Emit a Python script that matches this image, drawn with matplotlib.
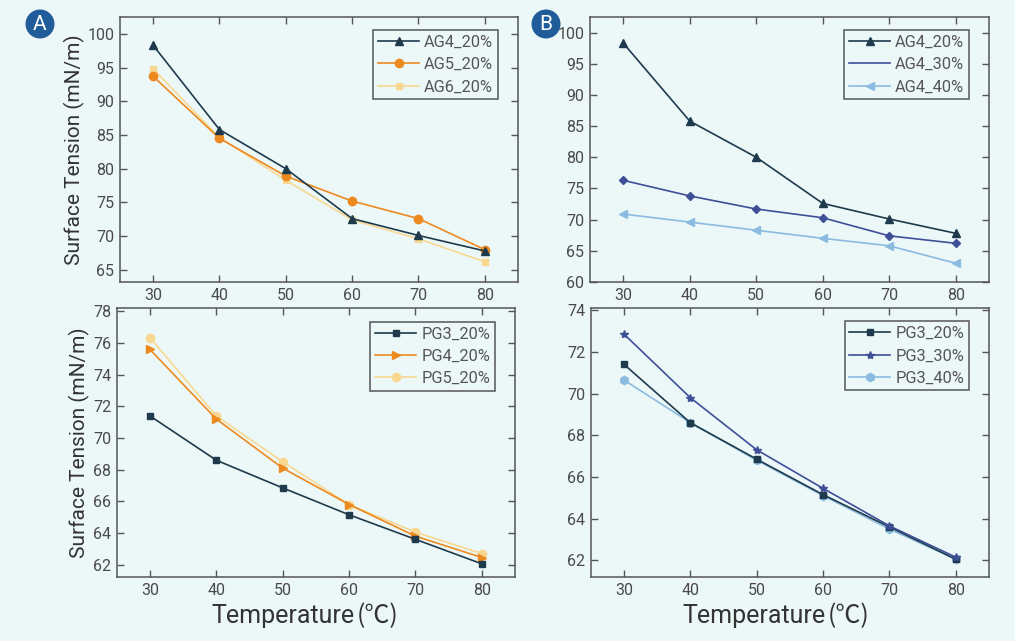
import matplotlib
matplotlib.use("Agg")
import matplotlib.pyplot as plt
from matplotlib.lines import Line2D
from matplotlib.patches import Circle

plt.rcParams['font.family'] = ['Roboto', 'DejaVu Sans']

temps = [30, 40, 50, 60, 70, 80]

ag4_20 = [98.3, 85.8, 80.0, 72.6, 70.1, 67.8]
ag5_20 = [93.7, 84.5, 78.9, 75.2, 72.6, 68.0]
ag6_20 = [94.8, 84.6, 78.3, 72.4, 69.6, 66.2]
ag4_30 = [76.3, 73.8, 71.7, 70.3, 67.4, 66.2]
ag4_40 = [70.9, 69.6, 68.3, 67.0, 65.8, 63.0]

pg3_20 = [71.4, 68.6, 66.85, 65.15, 63.6, 62.05]
pg4_20 = [75.6, 71.2, 68.1, 65.8, 63.8, 62.45]
pg5_20 = [76.35, 71.4, 68.5, 65.8, 64.05, 62.7]
pg3_30 = [72.85, 69.8, 67.3, 65.45, 63.65, 62.15]
pg3_40 = [70.65, 68.6, 66.8, 65.1, 63.5, 62.05]

BG = '#ECF8F8'
DARK = '#1E3A4C'
ORANGE = '#EC8A20'
YELLOW = '#F8D891'
BLUE = '#3E4F98'
LBLUE = '#8BBBE0'
TXT = '#4A4A4A'
SPINE = '#555555'

fig = plt.figure(figsize=(10.15, 6.41), dpi=100, facecolor=BG)

def make_ax(rect, ylim, yticks):
    ax = fig.add_axes(rect, facecolor=BG)
    ax.set_xlim(25, 85)
    ax.set_ylim(*ylim)
    ax.set_xticks(temps)
    ax.set_yticks(yticks)
    ax.tick_params(direction='in', top=True, right=True, length=5, width=1,
                   colors=SPINE, labelcolor=TXT, labelsize=11.5, pad=4)
    for s in ax.spines.values():
        s.set_color(SPINE)
        s.set_linewidth(1.1)
    return ax

def add_legend(ax, handles, labels):
    leg = ax.legend(handles, labels, loc='upper right',
                    bbox_to_anchor=(0.95, 0.951), borderaxespad=0.0,
                    fontsize=11.8, handlelength=2.5, handletextpad=0.3,
                    borderpad=0.3, labelspacing=0.44, fancybox=False,
                    framealpha=1, facecolor=BG, edgecolor=SPINE)
    leg.get_frame().set_linewidth(1.1)
    for t in leg.get_texts():
        t.set_color('#555555')
    return leg

ax1 = make_ax([0.1182, 0.5601, 0.3921, 0.4134], (63.2, 102.5), [65, 70, 75, 80, 85, 90, 95, 100])
ax2 = make_ax([0.5813, 0.5601, 0.3931, 0.4134], (60, 102.5), [60, 65, 70, 75, 80, 85, 90, 95, 100])
ax3 = make_ax([0.1150, 0.0994, 0.3924, 0.4196], (61.2, 78.2), [62, 64, 66, 68, 70, 72, 74, 76, 78])
ax4 = make_ax([0.5820, 0.0998, 0.3924, 0.4197], (61.2, 74.1), [62, 64, 66, 68, 70, 72, 74])

lw = 1.2
ax1.plot(temps, ag6_20, color=YELLOW, marker='s', ms=5, lw=lw, zorder=2)
ax1.plot(temps, ag5_20, color=ORANGE, marker='o', ms=6, lw=lw, zorder=3)
ax1.plot(temps, ag4_20, color=DARK, marker='^', ms=6, lw=lw, zorder=4)
h1 = [Line2D([], [], color=DARK, marker='^', ms=6, lw=lw),
      Line2D([], [], color=ORANGE, marker='o', ms=6, lw=lw),
      Line2D([], [], color=YELLOW, marker='s', ms=5, lw=lw)]
add_legend(ax1, h1, ['AG4_20%', 'AG5_20%', 'AG6_20%'])

ax2.plot(temps, ag4_40, color=LBLUE, marker='<', ms=6, lw=lw, zorder=2)
ax2.plot(temps, ag4_30, color=BLUE, marker='D', ms=4.5, lw=lw, zorder=3)
ax2.plot(temps, ag4_20, color=DARK, marker='^', ms=6, lw=lw, zorder=4)
h2 = [Line2D([], [], color=DARK, marker='^', ms=6, lw=lw),
      Line2D([], [], color=BLUE, lw=lw),
      Line2D([], [], color=LBLUE, marker='<', ms=6, lw=lw)]
add_legend(ax2, h2, ['AG4_20%', 'AG4_30%', 'AG4_40%'])

ax3.plot(temps, pg5_20, color=YELLOW, marker='o', ms=6, lw=lw, zorder=2)
ax3.plot(temps, pg4_20, color=ORANGE, marker='>', ms=6, lw=lw, zorder=3)
ax3.plot(temps, pg3_20, color=DARK, marker='s', ms=5, lw=lw, zorder=4)
h3 = [Line2D([], [], color=DARK, marker='s', ms=5, lw=lw),
      Line2D([], [], color=ORANGE, marker='>', ms=6, lw=lw),
      Line2D([], [], color=YELLOW, marker='o', ms=6, lw=lw)]
add_legend(ax3, h3, ['PG3_20%', 'PG4_20%', 'PG5_20%'])

ax4.plot(temps, pg3_40, color=LBLUE, marker='h', ms=6, lw=lw, zorder=2)
ax4.plot(temps, pg3_20, color=DARK, marker='s', ms=5, lw=lw, zorder=3)
ax4.plot(temps, pg3_30, color=BLUE, marker='*', ms=6, lw=lw, zorder=4)
h4 = [Line2D([], [], color=DARK, marker='s', ms=5, lw=lw),
      Line2D([], [], color=BLUE, marker='*', ms=6, lw=lw),
      Line2D([], [], color=LBLUE, marker='h', ms=6, lw=lw)]
add_legend(ax4, h4, ['PG3_20%', 'PG3_30%', 'PG3_40%'])

for ax in (ax1, ax3):
    ax.set_ylabel('Surface Tension (mN/m)', fontsize=15, color='#333333', labelpad=2)

for ax, xf in ((ax3, 0.598), (ax4, 0.590)):
    ax.text(xf, -0.145, 'Temperature', transform=ax.transAxes, ha='right', va='center',
            fontsize=18, color='#333333')
    ax.text(xf + 0.005, -0.145, '(℃)', transform=ax.transAxes, ha='left', va='center',
            fontsize=18, color='#333333', family=['Noto Sans CJK SC', 'DejaVu Sans'])

for (x, y, s) in [(40 / 1015, 1 - 24 / 641, 'A'), (546 / 1015, 1 - 24 / 641, 'B')]:
    fig.patches.append(Circle((x * 1015, y * 641), 14.5, transform=None,
                              facecolor='#1F5C99', edgecolor='none', zorder=10))
    fig.text(x, y, s, color='white', fontsize=15, ha='center', va='center', zorder=11)

fig.savefig('out.png', dpi=100, facecolor=BG)
